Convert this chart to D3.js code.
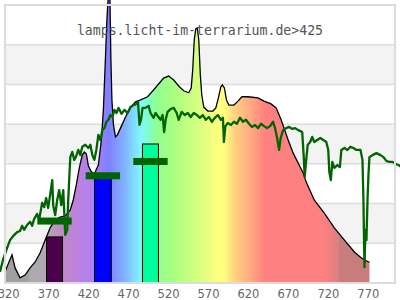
<!DOCTYPE html>
<html>
<head>
<meta charset="utf-8">
<script src="https://cdn.jsdelivr.net/npm/d3@7"></script>
<style>
  body { margin: 0; background: #fff; }
  svg { display: block; }
</style>
</head>
<body>
<div id="chart"></div>
<script>
// lamp spectrum (nm, relative intensity)
const specNm = [316, 321, 324.8, 328.6, 334.8, 341.1, 347.4, 353.7, 360, 366.3, 372.5, 378.8, 385.1, 391.4, 397.7,
  401.4, 405.2, 409, 412.7, 415.2, 417.8, 420.3, 424, 427.8, 432.8, 436.6, 439.1, 441.6, 443.5, 445.4, 447.3,
  448.5, 449.8, 451.7, 454.2, 456.7, 460.5, 466.8, 473, 479.3, 485.6, 494.4, 501.9, 508.2, 514.5, 520.8, 527.1,
  533.3, 539.6, 545.9, 549, 550.9, 552.8, 554.7, 556.6, 558.5, 560.4, 562.2, 564.7, 569.8, 576.1, 579.8, 583,
  586.1, 588, 590.5, 593.1, 596.2, 602.5, 607.5, 612.5, 620, 632.6, 640.1, 648.9, 655.2, 661.5, 665.2, 670.3,
  676.6, 682.8, 689.1, 692.9, 702.9, 715.5, 728.1, 740.7, 753.2, 762, 770.8, 772];
const specVal = [2.8, 5.3, 7.1, 3.8, 1.3, 2.0, 3.8, 5.3, 7.6, 10.8, 13.9, 15.9, 16.6, 16.9, 18.4,
  20.9, 24.7, 29.0, 32.2, 33.0, 32.5, 29.5, 28.0, 27.5, 29.7, 36.0, 43.6, 56.2, 66.2, 73, 72,
  56.2, 46.1, 39.8, 36.8, 37.3, 39.0, 41.8, 44.1, 45.6, 46.1, 46.9, 48.6, 50.1, 51.6, 52.1, 51.1,
  49.6, 48.4, 47.9, 49.1, 53.7, 61.2, 64.0, 64.2, 61.2, 52.4, 47.4, 44.3, 43.3, 43.3, 44.1, 46.6,
  49.4, 49.9, 49.1, 46.1, 44.8, 44.8, 45.8, 46.9, 46.9, 46.6, 45.8, 45.1, 44.1, 41.1, 39.0, 36.0,
  32.7, 30.2, 27.7, 25.4, 20.9, 17.6, 13.9, 10.8, 7.8, 6.3, 5.3, 5.3];

// reference curve (dark green)
const refNm = [309.7, 313.5, 318.5, 322.3, 326.1, 331.1, 334.8, 337.4, 339.9, 343.6, 347.4, 349.9, 352.4, 356.2,
  358.7, 362.5, 365, 367.5, 370, 372.5, 375.1, 376.3, 378.8, 381.3, 383.8, 386.4, 388.9, 391.4, 393.9, 395.1,
  397.7, 400.2, 402.7, 405.2, 407.7, 410.2, 412.7, 416.5, 420.3, 422.8, 425.3, 427.8, 430.3, 432.8, 435.3,
  437.9, 440.4, 442.9, 445.4, 447.9, 450.4, 452.9, 455.5, 458, 461.8, 465.5, 469.3, 473, 476.8, 480.6, 482.4,
  484.3, 486.2, 488.1, 491.8, 495.6, 498.1, 501.9, 504.4, 506.9, 510.7, 513.2, 515.1, 517, 519.5, 523.3, 527.1,
  530.8, 533.3, 537.1, 540.9, 544.7, 548.4, 552.2, 556, 559.8, 563.5, 567.3, 571.1, 574.9, 578.6, 582.4, 586.1,
  588.7, 589.9, 591.8, 594.9, 598.7, 602.5, 606.2, 610, 613.8, 617.5, 621.3, 625.1, 628.9, 632.6, 636.4, 640.1,
  643.9, 647.7, 651.4, 653.9, 656.5, 659, 660.9, 664, 667.8, 671.6, 675.3, 679.1, 682.8, 687.9, 689.7, 691,
  692.9, 694.8, 697.9, 700.4, 703, 706.7, 710.5, 714.3, 718, 720.5, 721.8, 723.7, 725.6, 728.1, 731.8, 735,
  736.9, 740.7, 744.4, 748.2, 752, 755.8, 760.8, 763.3, 764.5, 765.8, 767, 768.3, 769.6, 770.8, 772, 775.8,
  780.8, 785.9, 789.6, 793.4, 797.2, 800.9, 804.7, 808.5, 812.2];
const refVal = [2.8, 5.8, 8.8, 10.8, 11.8, 12.8, 13.1, 14.4, 13.4, 14.6, 15.4, 14.4, 16.1, 17.4,
  15.9, 20.2, 19.1, 21.4, 18.9, 22.2, 25.9, 19.6, 17.1, 20.9, 23.4, 19.6, 23.4, 12.1, 13.4, 20.9,
  31.7, 33.0, 31.0, 32.0, 33.5, 32.2, 34.3, 34.8, 34.0, 34.8, 32.2, 31.0, 33.5, 37.3, 36.0,
  38.5, 39.0, 40.6, 41.1, 42.3, 41.8, 43.6, 42.8, 44.1, 42.6, 43.6, 42.8, 44.3, 44.8, 45.1, 45.6,
  39.8, 41.1, 44.1, 44.1, 44.6, 42.8, 41.6, 42.8, 42.1, 41.1, 42.3, 38.0, 41.1, 43.1, 43.8, 44.1,
  42.8, 41.1, 43.1, 42.3, 42.8, 41.8, 42.8, 42.3, 41.6, 42.3, 41.1, 41.8, 40.6, 41.6, 42.3, 41.1,
  41.6, 35.5, 39.5, 40.3, 39.8, 40.6, 40.1, 41.6, 40.6, 41.1, 40.1, 39.3, 39.8, 39.0, 40.1, 39.5,
  39.0, 39.5, 40.6, 39.0, 36.5, 33.5, 36.5, 38.5, 39.0, 39.3, 38.8, 39.0, 38.5, 38.0, 32.2, 26.7,
  31.0, 34.8, 35.5, 36.8, 35.5, 36.0, 36.5, 36.0, 35.5, 33.5, 28.0, 25.9, 30.5, 29.0, 29.7, 29.2,
  33.5, 34.0, 33.5, 34.3, 34.0, 33.5, 33.5, 31.0, 20.9, 4.0, 13.4, 10.8, 20.9, 27.2, 31.7, 32.2,
  32.7, 32.2, 31.7, 30.7, 30.5, 30.5, 30.0, 29.7, 29.2];

// band bars: [from nm, to nm], value, colour
const bandFrom = [368, 428, 488];
const bandTo = [388, 449, 508];
const bandVal = [11.6, 26.7, 35.0];
const bandColor = ['#4b004b', '#0000ff', '#00ff9c'];
// dark green markers over the bars
const markVal = [15.6, 27.0, 30.6];

// colour of the spectrum fill by wavelength
const stopNm = [316, 346, 346, 368, 388, 406, 426, 446, 466, 486, 496, 506, 526, 556, 574, 582, 590, 604, 624, 642, 714, 734, 734, 772];
const stopColor = ['#a0a0a0', '#a0a0a0', '#b0a8b0', '#b0a8b0', '#c088c4', '#bc82dc', '#b080f4', '#8080ff', '#80b4ff',
  '#80f8ff', '#80ffc8', '#90ff90', '#a8ff80', '#d4ff80', '#f0ff80', '#ffff80', '#ffff80', '#ffd080', '#ffa880',
  '#ff8080', '#ff8080', '#d88080', '#c87c7c', '#c87c7c'];

const xTicks = [320, 370, 420, 470, 520, 570, 620, 670, 720, 770];
const title = 'lamps.licht-im-terrarium.de>425';

const w = 400, h = 300;
const pLeft = 5, pRight = 395, pTop = 5, pBottom = 283;

const svg = d3.select('#chart').append('svg')
  .attr('width', w)
  .attr('height', h);

const x = d3.scaleLinear().domain([316, 804]).range([pLeft, pRight]);
const y = d3.scaleLinear().domain([0, 70]).range([pBottom, pTop]);

// alternating bands + grid
const yGrid = d3.range(0, 70, 10);
svg.append('g').selectAll('rect')
  .data(yGrid.filter(d => (d / 10) % 2 === 1))
  .enter().append('rect')
  .attr('x', pLeft)
  .attr('width', pRight - pLeft)
  .attr('y', d => y(d + 10))
  .attr('height', d => y(d) - y(d + 10))
  .attr('fill', '#f3f3f3');

svg.append('g').selectAll('line')
  .data(yGrid.slice(1))
  .enter().append('line')
  .attr('x1', pLeft).attr('x2', pRight)
  .attr('y1', d => y(d)).attr('y2', d => y(d))
  .attr('stroke', '#dcdcdc')
  .attr('stroke-width', 1.5);

// gradient by wavelength
const grad = svg.append('defs').append('linearGradient')
  .attr('id', 'spec')
  .attr('gradientUnits', 'userSpaceOnUse')
  .attr('x1', x(316)).attr('x2', x(772))
  .attr('y1', 0).attr('y2', 0);
grad.selectAll('stop')
  .data(stopNm)
  .enter().append('stop')
  .attr('offset', d => (d - 316) / (772 - 316))
  .attr('stop-color', (d, i) => stopColor[i]);

const spec = specNm.map((n, i) => [n, specVal[i]]);

svg.append('path')
  .datum(spec)
  .attr('fill', 'url(#spec)')
  .attr('d', d3.area().x(d => x(d[0])).y0(y(0)).y1(d => y(d[1])));

svg.append('path')
  .datum(spec)
  .attr('fill', 'none')
  .attr('stroke', '#000')
  .attr('stroke-width', 1.3)
  .attr('d', d3.line().x(d => x(d[0])).y(d => y(d[1])));

// reference line
svg.append('path')
  .datum(refNm.map((n, i) => [n, refVal[i]]))
  .attr('fill', 'none')
  .attr('stroke', '#006400')
  .attr('stroke-width', 2.3)
  .attr('stroke-linejoin', 'round')
  .attr('d', d3.line().x(d => x(d[0])).y(d => y(d[1])));

// bars
svg.append('g').selectAll('rect')
  .data(bandVal)
  .enter().append('rect')
  .attr('x', (d, i) => x(bandFrom[i]))
  .attr('width', (d, i) => x(bandTo[i]) - x(bandFrom[i]))
  .attr('y', d => y(d))
  .attr('height', d => y(0) - y(d))
  .attr('fill', (d, i) => bandColor[i])
  .attr('stroke', '#000')
  .attr('stroke-width', 1);

// markers
svg.append('g').selectAll('rect')
  .data(markVal)
  .enter().append('rect')
  .attr('x', (d, i) => x((bandFrom[i] + bandTo[i]) / 2 - 21.5))
  .attr('width', x(43) - x(0))
  .attr('y', d => y(d) - 3.5)
  .attr('height', 7)
  .attr('fill', '#006400');

// plot frame
svg.append('rect')
  .attr('x', pLeft).attr('y', pTop)
  .attr('width', pRight - pLeft).attr('height', pBottom - pTop)
  .attr('fill', 'none')
  .attr('stroke', '#dcdcdc')
  .attr('stroke-width', 2);

// x axis labels
const xAxis = d3.axisBottom(x).tickValues(xTicks).tickSize(0).tickPadding(6.5);
const gx = svg.append('g')
  .attr('transform', 'translate(0,' + pBottom + ')')
  .call(xAxis);
gx.select('.domain').remove();
gx.selectAll('text')
  .attr('fill', '#666')
  .style('font-family', '"DejaVu Sans", sans-serif')
  .style('font-size', '11.5px');

// title
svg.append('text')
  .attr('x', 200)
  .attr('y', 35)
  .attr('text-anchor', 'middle')
  .attr('fill', '#555')
  .style('font-family', '"DejaVu Sans Mono", monospace')
  .style('font-size', '13.2px')
  .text(title);
</script>
</body>
</html>
